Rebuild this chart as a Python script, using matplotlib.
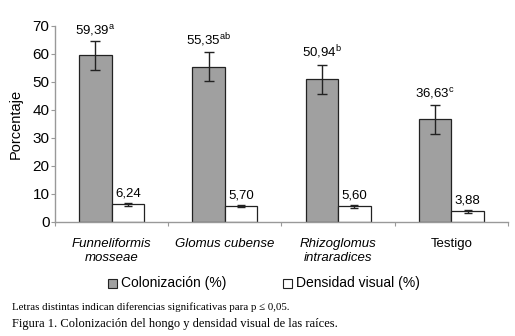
import matplotlib
matplotlib.use("Agg")
import matplotlib.pyplot as plt
import numpy as np
from matplotlib.patches import Rectangle

categories = ["Funneliformis\nmosseae", "Glomus cubense", "Rhizoglomus\nintraradices", "Testigo"]
italic = [True, True, True, False]
colonizacion = [59.39, 55.35, 50.94, 36.63]
col_err = [5.1, 5.2, 5.2, 5.2]
col_letters = ["a", "ab", "b", "c"]
densidad = [6.24, 5.70, 5.60, 3.88]
den_err = [0.5, 0.5, 0.5, 0.5]
yticks = [0, 10, 20, 30, 40, 50, 60, 70]

plt.rcParams['font.family'] = ['Liberation Sans', 'DejaVu Sans']
plt.rcParams['mathtext.fontset'] = 'custom'
plt.rcParams['mathtext.rm'] = 'Liberation Sans'
plt.rcParams['mathtext.it'] = 'Liberation Sans:italic'

fig = plt.figure(figsize=(5.15, 3.36), dpi=100)
ax = fig.add_axes([0.1068, 0.3393, 0.8796, 0.5842])

x = np.arange(len(categories))
w = 0.287
gray = "#a0a0a0"
ax.bar(x - w/2, colonizacion, w, color=gray, edgecolor="#222222", linewidth=0.9, zorder=2)
ax.bar(x + w/2, densidad, w, color="white", edgecolor="#222222", linewidth=0.9, zorder=2)
ax.errorbar(x - w/2, colonizacion, yerr=col_err, fmt="none", ecolor="#222222",
            elinewidth=1.0, capsize=3.5, capthick=1.0, zorder=3)
ax.errorbar(x + w/2, densidad, yerr=den_err, fmt="none", ecolor="#222222",
            elinewidth=1.0, capsize=3, capthick=1.0, zorder=3)

for xi, v, e, l in zip(x, colonizacion, col_err, col_letters):
    s = ("%.2f" % v).replace(".", ",")
    ax.text(xi - w/2, v + e + 1.2, s + r"$^{\mathrm{%s}}$" % l, ha="center", va="bottom", fontsize=9.5)
for xi, v, e in zip(x, densidad, den_err):
    s = ("%.2f" % v).replace(".", ",")
    ax.text(xi + w/2, v + e + 1.2, s, ha="center", va="bottom", fontsize=9.5)

ax.set_xlim(-0.5, len(categories) - 0.5)
ax.set_ylim(0, 70)
ax.set_yticks(yticks)
ax.tick_params(axis="y", labelsize=11, length=3, color="#999999", pad=1)
ax.set_xticks(np.arange(len(categories) + 1) - 0.5)
ax.set_xticklabels([])
ax.tick_params(axis="x", length=3, color="#999999", direction="out")
for xi, c, it in zip(x, categories, italic):
    ax.text(xi, -5.6, c, ha="center", va="top", fontsize=9.5,
            style="italic" if it else "normal", transform=ax.transData, linespacing=1.3)
for sp in ["top", "right"]:
    ax.spines[sp].set_visible(False)
for sp in ["left", "bottom"]:
    ax.spines[sp].set_color("#999999")
    ax.spines[sp].set_linewidth(1.0)
ax.set_ylabel("Porcentaje", fontsize=10.5, labelpad=7)

# legend
fig.patches.append(Rectangle((108/515, 1-288/336), 9/515, 9/336, transform=fig.transFigure,
                             facecolor=gray, edgecolor="#222222", linewidth=0.8))
fig.text(121/515, 1-283/336, "Colonización (%)", fontsize=10, va="center", ha="left")
fig.patches.append(Rectangle((283/515, 1-288/336), 9/515, 9/336, transform=fig.transFigure,
                             facecolor="white", edgecolor="#222222", linewidth=0.8))
fig.text(296/515, 1-283/336, "Densidad visual (%)", fontsize=10, va="center", ha="left")

fig.text(12/515, 1-307/336, "Letras distintas indican diferencias significativas para p \u2264 0,05.",
         family=["Liberation Serif", "DejaVu Serif"], fontsize=7.8, va="center", ha="left")
fig.text(12/515, 1-324/336, "Figura 1. Colonización del hongo y densidad visual de las raíces.",
         family=["Liberation Serif", "DejaVu Serif"], fontsize=9, va="center", ha="left")

fig.savefig("out.png", dpi=100)
